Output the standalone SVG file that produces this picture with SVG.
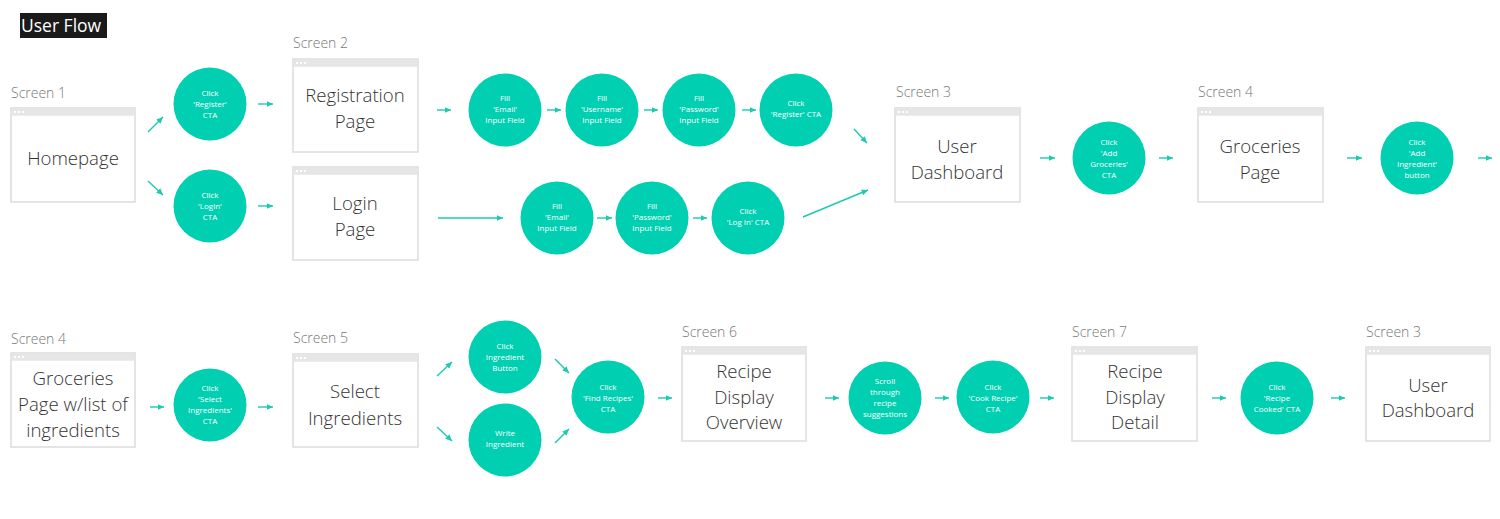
<svg xmlns="http://www.w3.org/2000/svg" xmlns:xlink="http://www.w3.org/1999/xlink" width="1500" height="519" viewBox="0 0 1500 519">
<style>
.lbl{font-family:"Open Sans","Noto Sans","Liberation Sans",sans-serif;font-size:14px;font-weight:300;fill:#777}
.bx{fill:#fff;stroke:#dcdcdc;stroke-width:1.5}
.hd{fill:#e6e6e6}
.bt{font-family:"Open Sans","Noto Sans","Liberation Sans",sans-serif;font-size:18.6px;font-weight:300;fill:#333;text-anchor:middle}
.cc{fill:#00cfb1}
.ct{font-family:"Open Sans","Noto Sans","Liberation Sans",sans-serif;font-size:8px;fill:#fff;text-anchor:middle}
.ar{stroke:#1ccab0;stroke-width:1.4;fill:none;marker-end:url(#ah)}
</style>
<defs>
<marker id="ah" markerUnits="userSpaceOnUse" markerWidth="7" markerHeight="7" refX="6.5" refY="3.5" orient="auto">
<path d="M0,0.5 L6.5,3.5 L0,6.5 z" fill="#1ccab0"/>
</marker>
<g id="dots" fill="#fff"><rect x="0" y="0" width="2" height="2"/><rect x="4" y="0" width="2" height="2"/><rect x="8" y="0" width="2" height="2"/></g>
</defs>
<rect width="1500" height="519" fill="#fff"/>
<g id="title">
<rect x="20" y="13" width="87" height="25" fill="#1a1a1a"/>
<text x="21" y="32" font-family="'Open Sans','Noto Sans','Liberation Sans',sans-serif" font-size="17.5" fill="#fff">User Flow</text>
</g>

<g id="connectors">
<line class="ar" x1="148" y1="132" x2="163" y2="117"/>
<line class="ar" x1="148" y1="181" x2="163" y2="195"/>
<line class="ar" x1="258" y1="104" x2="273" y2="104"/>
<line class="ar" x1="258" y1="206" x2="273" y2="206"/>
<line class="ar" x1="437" y1="110" x2="451" y2="110"/>
<line class="ar" x1="547" y1="110" x2="561" y2="110"/>
<line class="ar" x1="644" y1="110" x2="658" y2="110"/>
<line class="ar" x1="742" y1="110" x2="756" y2="110"/>
<line class="ar" x1="854" y1="129" x2="867" y2="143"/>
<line class="ar" x1="438" y1="218" x2="503" y2="218"/>
<line class="ar" x1="597" y1="218" x2="612" y2="218"/>
<line class="ar" x1="693" y1="218" x2="707" y2="218"/>
<line class="ar" x1="803" y1="217" x2="868" y2="190"/>
<line class="ar" x1="1040" y1="158" x2="1055" y2="158"/>
<line class="ar" x1="1159" y1="158" x2="1173" y2="158"/>
<line class="ar" x1="1347" y1="158" x2="1362" y2="158"/>
<line class="ar" x1="1478" y1="158" x2="1492" y2="158"/>
<line class="ar" x1="150" y1="407" x2="164" y2="407"/>
<line class="ar" x1="258" y1="407" x2="273" y2="407"/>
<line class="ar" x1="437" y1="376" x2="452" y2="362"/>
<line class="ar" x1="437" y1="427" x2="452" y2="441"/>
<line class="ar" x1="555" y1="359" x2="569" y2="373"/>
<line class="ar" x1="555" y1="443" x2="569" y2="429"/>
<line class="ar" x1="658" y1="398" x2="672" y2="398"/>
<line class="ar" x1="825" y1="398" x2="839" y2="398"/>
<line class="ar" x1="935" y1="398" x2="949" y2="398"/>
<line class="ar" x1="1040" y1="398" x2="1054" y2="398"/>
<line class="ar" x1="1212" y1="398" x2="1226" y2="398"/>
<line class="ar" x1="1331" y1="398" x2="1345" y2="398"/>
</g>

<!-- Top row screens -->
<g id="screen1-homepage">
<text class="lbl" x="11" y="98">Screen 1</text>
<rect class="bx" x="11" y="108" width="124" height="94"/>
<rect class="hd" x="11.75" y="108.75" width="122.5" height="7"/>
<use xlink:href="#dots" x="14" y="111"/>
<text class="bt" x="73" y="165">Homepage</text>
</g>
<g id="cta-register">
<circle class="cc" cx="210" cy="104" r="36.5"/>
<text class="ct"><tspan x="210" y="96">Click</tspan><tspan x="210" y="107">'Register'</tspan><tspan x="210" y="118">CTA</tspan></text>
</g>
<g id="cta-login">
<circle class="cc" cx="210" cy="206" r="36.5"/>
<text class="ct"><tspan x="210" y="198">Click</tspan><tspan x="210" y="209">'Login'</tspan><tspan x="210" y="220">CTA</tspan></text>
</g>
<g id="screen2-registration">
<text class="lbl" x="293" y="48">Screen 2</text>
<rect class="bx" x="293" y="59" width="125" height="93"/>
<rect class="hd" x="293.75" y="59.75" width="123.5" height="7"/>
<use xlink:href="#dots" x="296" y="62"/>
<text class="bt"><tspan x="355" y="102">Registration</tspan><tspan x="355" y="128">Page</tspan></text>
</g>
<g id="screen2-login">
<rect class="bx" x="293" y="167" width="125" height="93"/>
<rect class="hd" x="293.75" y="167.75" width="123.5" height="7"/>
<use xlink:href="#dots" x="296" y="170"/>
<text class="bt"><tspan x="355" y="210">Login</tspan><tspan x="355" y="236">Page</tspan></text>
</g>
<g id="fill-email">
<circle class="cc" cx="505" cy="110" r="36.5"/>
<text class="ct"><tspan x="505" y="101">Fill</tspan><tspan x="505" y="112">'Email'</tspan><tspan x="505" y="123">Input Field</tspan></text>
</g>
<g id="fill-username">
<circle class="cc" cx="602" cy="110" r="36.5"/>
<text class="ct"><tspan x="602" y="101">Fill</tspan><tspan x="602" y="112">'Username'</tspan><tspan x="602" y="123">Input Field</tspan></text>
</g>
<g id="fill-password">
<circle class="cc" cx="699" cy="110" r="36.5"/>
<text class="ct"><tspan x="699" y="101">Fill</tspan><tspan x="699" y="112">'Password'</tspan><tspan x="699" y="123">Input Field</tspan></text>
</g>
<g id="click-register-cta">
<circle class="cc" cx="796" cy="110" r="36.5"/>
<text class="ct"><tspan x="796" y="106">Click</tspan><tspan x="796" y="117">'Register' CTA</tspan></text>
</g>
<g id="login-fill-email">
<circle class="cc" cx="557" cy="218" r="36.5"/>
<text class="ct"><tspan x="557" y="209">Fill</tspan><tspan x="557" y="220">'Email'</tspan><tspan x="557" y="231">Input Field</tspan></text>
</g>
<g id="login-fill-password">
<circle class="cc" cx="652" cy="218" r="36.5"/>
<text class="ct"><tspan x="652" y="209">Fill</tspan><tspan x="652" y="220">'Password'</tspan><tspan x="652" y="231">Input Field</tspan></text>
</g>
<g id="click-login-cta">
<circle class="cc" cx="748" cy="218" r="36.5"/>
<text class="ct"><tspan x="748" y="214">Click</tspan><tspan x="748" y="225">'Log In' CTA</tspan></text>
</g>
<g id="screen3-dashboard">
<text class="lbl" x="896" y="97">Screen 3</text>
<rect class="bx" x="895" y="108" width="125" height="94"/>
<rect class="hd" x="895.75" y="108.75" width="123.5" height="7"/>
<use xlink:href="#dots" x="898" y="111"/>
<text class="bt"><tspan x="957" y="153">User</tspan><tspan x="957" y="179">Dashboard</tspan></text>
</g>
<g id="click-add-groceries">
<circle class="cc" cx="1109" cy="158" r="36.5"/>
<text class="ct"><tspan x="1109" y="145">Click</tspan><tspan x="1109" y="156">'Add</tspan><tspan x="1109" y="167">Groceries'</tspan><tspan x="1109" y="178">CTA</tspan></text>
</g>
<g id="screen4-groceries">
<text class="lbl" x="1198" y="97">Screen 4</text>
<rect class="bx" x="1198" y="108" width="125" height="94"/>
<rect class="hd" x="1198.75" y="108.75" width="123.5" height="7"/>
<use xlink:href="#dots" x="1201" y="111"/>
<text class="bt"><tspan x="1260" y="153">Groceries</tspan><tspan x="1260" y="179">Page</tspan></text>
</g>
<g id="click-add-ingredient">
<circle class="cc" cx="1417" cy="158" r="36.5"/>
<text class="ct"><tspan x="1417" y="145">Click</tspan><tspan x="1417" y="156">'Add</tspan><tspan x="1417" y="167">Ingredient'</tspan><tspan x="1417" y="178">button</tspan></text>
</g>

<!-- Bottom row -->
<g id="screen4-groceries-list">
<text class="lbl" x="11" y="344">Screen 4</text>
<rect class="bx" x="11" y="353" width="124" height="94"/>
<rect class="hd" x="11.75" y="353.75" width="122.5" height="7"/>
<use xlink:href="#dots" x="14" y="356"/>
<text class="bt"><tspan x="73" y="385">Groceries</tspan><tspan x="73" y="411">Page w/list of</tspan><tspan x="73" y="437">ingredients</tspan></text>
</g>
<g id="click-select-ingredients">
<circle class="cc" cx="210" cy="405" r="36.5"/>
<text class="ct"><tspan x="210" y="391">Click</tspan><tspan x="210" y="402">'Select</tspan><tspan x="210" y="413">Ingredients'</tspan><tspan x="210" y="424">CTA</tspan></text>
</g>
<g id="screen5-select">
<text class="lbl" x="293" y="343">Screen 5</text>
<rect class="bx" x="293" y="354" width="125" height="93"/>
<rect class="hd" x="293.75" y="354.75" width="123.5" height="7"/>
<use xlink:href="#dots" x="296" y="357"/>
<text class="bt"><tspan x="355" y="398">Select</tspan><tspan x="355" y="425">Ingredients</tspan></text>
</g>
<g id="click-ingredient-button">
<circle class="cc" cx="505" cy="357" r="36.5"/>
<text class="ct"><tspan x="505" y="349">Click</tspan><tspan x="505" y="360">Ingredient</tspan><tspan x="505" y="371">Button</tspan></text>
</g>
<g id="write-ingredient">
<circle class="cc" cx="505" cy="440" r="36.5"/>
<text class="ct"><tspan x="505" y="436">Write</tspan><tspan x="505" y="447">Ingredient</tspan></text>
</g>
<g id="click-find-recipes">
<circle class="cc" cx="608" cy="397" r="36.5"/>
<text class="ct"><tspan x="608" y="390">Click</tspan><tspan x="608" y="401">'Find Recipes'</tspan><tspan x="608" y="412">CTA</tspan></text>
</g>
<g id="screen6-overview">
<text class="lbl" x="682" y="337">Screen 6</text>
<rect class="bx" x="682" y="347" width="124" height="94"/>
<rect class="hd" x="682.75" y="347.75" width="122.5" height="7"/>
<use xlink:href="#dots" x="685" y="350"/>
<text class="bt"><tspan x="744" y="378">Recipe</tspan><tspan x="744" y="404">Display</tspan><tspan x="744" y="429">Overview</tspan></text>
</g>
<g id="scroll-suggestions">
<circle class="cc" cx="885" cy="398" r="36.5"/>
<text class="ct"><tspan x="885" y="384">Scroll</tspan><tspan x="885" y="395">through</tspan><tspan x="885" y="406">recipe</tspan><tspan x="885" y="417">suggestions</tspan></text>
</g>
<g id="click-cook-recipe">
<circle class="cc" cx="993" cy="397" r="36.5"/>
<text class="ct"><tspan x="993" y="390">Click</tspan><tspan x="993" y="401">'Cook Recipe'</tspan><tspan x="993" y="412">CTA</tspan></text>
</g>
<g id="screen7-detail">
<text class="lbl" x="1072" y="337">Screen 7</text>
<rect class="bx" x="1072" y="347" width="125" height="94"/>
<rect class="hd" x="1072.75" y="347.75" width="123.5" height="7"/>
<use xlink:href="#dots" x="1075" y="350"/>
<text class="bt"><tspan x="1135" y="378">Recipe</tspan><tspan x="1135" y="404">Display</tspan><tspan x="1135" y="429">Detail</tspan></text>
</g>
<g id="click-recipe-cooked">
<circle class="cc" cx="1277" cy="398" r="36.5"/>
<text class="ct"><tspan x="1277" y="390">Click</tspan><tspan x="1277" y="401">'Recipe</tspan><tspan x="1277" y="412">Cooked' CTA</tspan></text>
</g>
<g id="screen3-dashboard-2">
<text class="lbl" x="1366" y="337">Screen 3</text>
<rect class="bx" x="1366" y="347" width="124" height="94"/>
<rect class="hd" x="1366.75" y="347.75" width="122.5" height="7"/>
<use xlink:href="#dots" x="1369" y="350"/>
<text class="bt"><tspan x="1428" y="392">User</tspan><tspan x="1428" y="417">Dashboard</tspan></text>
</g>
</svg>
